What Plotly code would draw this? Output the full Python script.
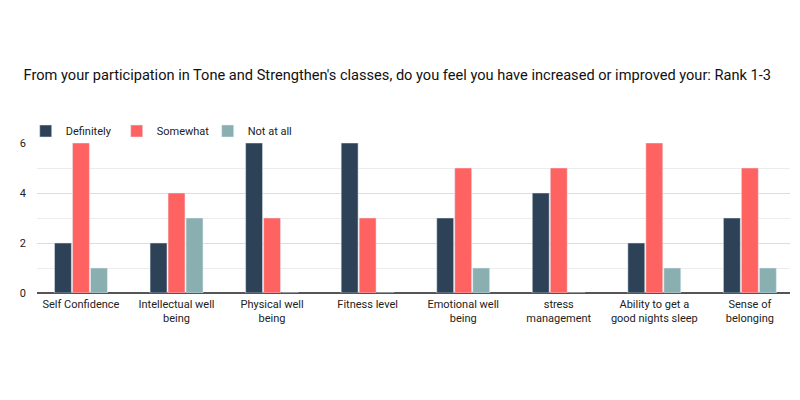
import plotly.graph_objects as go

categories = ["Self Confidence", "Intellectual well<br>being", "Physical well<br>being",
              "Fitness level", "Emotional well<br>being", "stress<br>management",
              "Ability to get a<br>good nights sleep", "Sense of<br>belonging"]
definitely = [2, 2, 6, 6, 3, 4, 2, 3]
somewhat = [6, 4, 3, 3, 5, 5, 6, 5]
not_at_all = [1, 3, 0, 0, 1, 0, 1, 1]

fig = go.Figure()
fig.add_trace(go.Bar(name="Definitely", x=categories, y=definitely, marker_color="#2E4257"))
fig.add_trace(go.Bar(name="Somewhat", x=categories, y=somewhat, marker_color="#FF6361"))
fig.add_trace(go.Bar(name="Not at all", x=categories, y=not_at_all, marker_color="#8AAFB1"))

# page body has an 8px margin, so everything is offset by 8px
fig.update_layout(
    width=800, height=400,
    margin=dict(l=29, r=18, t=135, b=115, autoexpand=False),
    paper_bgcolor="white", plot_bgcolor="white",
    font=dict(family="Roboto", size=11, color="#222222"),
    title=dict(text="From your participation in Tone and Strengthen's classes, do you feel you have increased or improved your: Rank 1-3",
               x=0.0195, xanchor="left", y=0.8325, yanchor="middle", pad=dict(l=0, r=0, t=0, b=0),
               font=dict(size=14.6, color="#111111")),
    barmode="group", bargap=0.435, bargroupgap=0.06,
    showlegend=True,
    legend=dict(orientation="h", x=-0.015, xanchor="left", y=1.08, yanchor="middle",
                bgcolor="rgba(0,0,0,0)",
                font=dict(size=11), itemwidth=30, entrywidth=46, traceorder="normal"),
)
fig.update_xaxes(range=[-0.46, 7.42], showgrid=False, ticks="", automargin=False,
                 tickfont=dict(size=11), ticklabelstandoff=3)
fig.update_yaxes(range=[0, 6], tickvals=[0, 2, 4, 6], showgrid=True, gridcolor="#DDDDDD",
                 zeroline=True, zerolinecolor="#555555", zerolinewidth=1.5, automargin=False,
                 minor=dict(tickvals=[1, 3, 5], showgrid=True, gridcolor="#ECECEC"),
                 tickfont=dict(size=11), ticklabelstandoff=10)

fig.write_html("out.html")
